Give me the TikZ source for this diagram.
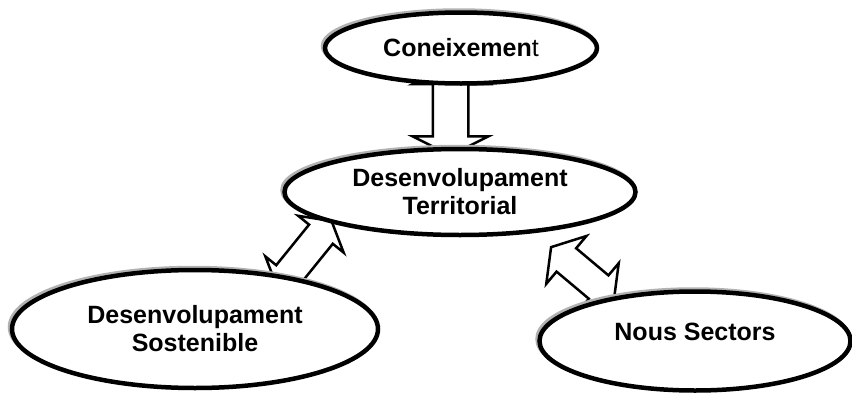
\documentclass[tikz,border=0pt]{standalone}
\usepackage{fontspec}
\setmainfont{Liberation Sans}
\usetikzlibrary{shapes.geometric,shapes.arrows,shadows,calc,backgrounds}

\begin{document}
\begin{tikzpicture}[x=1pt,y=-1pt,
    bubble/.style={ellipse,draw,line width=4.5pt,fill=white,inner sep=0pt,align=center,
      font=\fontsize{25}{28}\selectfont\bfseries,
      general shadow={draw=gray!60,line width=4.5pt,shadow xshift=-2pt,shadow yshift=2pt}},
    hollow/.style={double arrow,draw,line width=2.5pt,fill=white,inner xsep=0pt}]
    \useasboundingbox (0,0) rectangle (852,399);
    \node[bubble,minimum width=272,minimum height=71] (C) at (461,48) {Coneixemen\mdseries t};
    \node[bubble,minimum width=351,minimum height=86] (T) at (460,192) {Desenvolupament\\Territorial};
    \node[bubble,minimum width=366,minimum height=118] (S) at (195,329) {Desenvolupament\\Sostenible};
    \node[bubble,minimum width=311,minimum height=99,text depth=18pt] (N) at (695,341) {Nous Sectors};
    \begin{scope}[on background layer]
      \node[hollow,rotate=90,minimum height=90,inner ysep=16.5,
        double arrow head extend=20,double arrow tip angle=127]
        (CT) at ($(C.south)!.5!(T.north)+(-10,-6)$) {};
      \node[hollow,rotate=51,minimum height=86,inner ysep=14,
        double arrow head extend=14,double arrow tip angle=120]
        (TS) at ($(T)!.5!(S)+(-23,-6)$) {};
      \node[hollow,rotate=-40,minimum height=82,inner ysep=14,
        double arrow head extend=16,double arrow tip angle=115]
        (TN) at ($(T)!.5!(N)+(5,7)$) {};
    \end{scope}
  \end{tikzpicture}
\end{document}
